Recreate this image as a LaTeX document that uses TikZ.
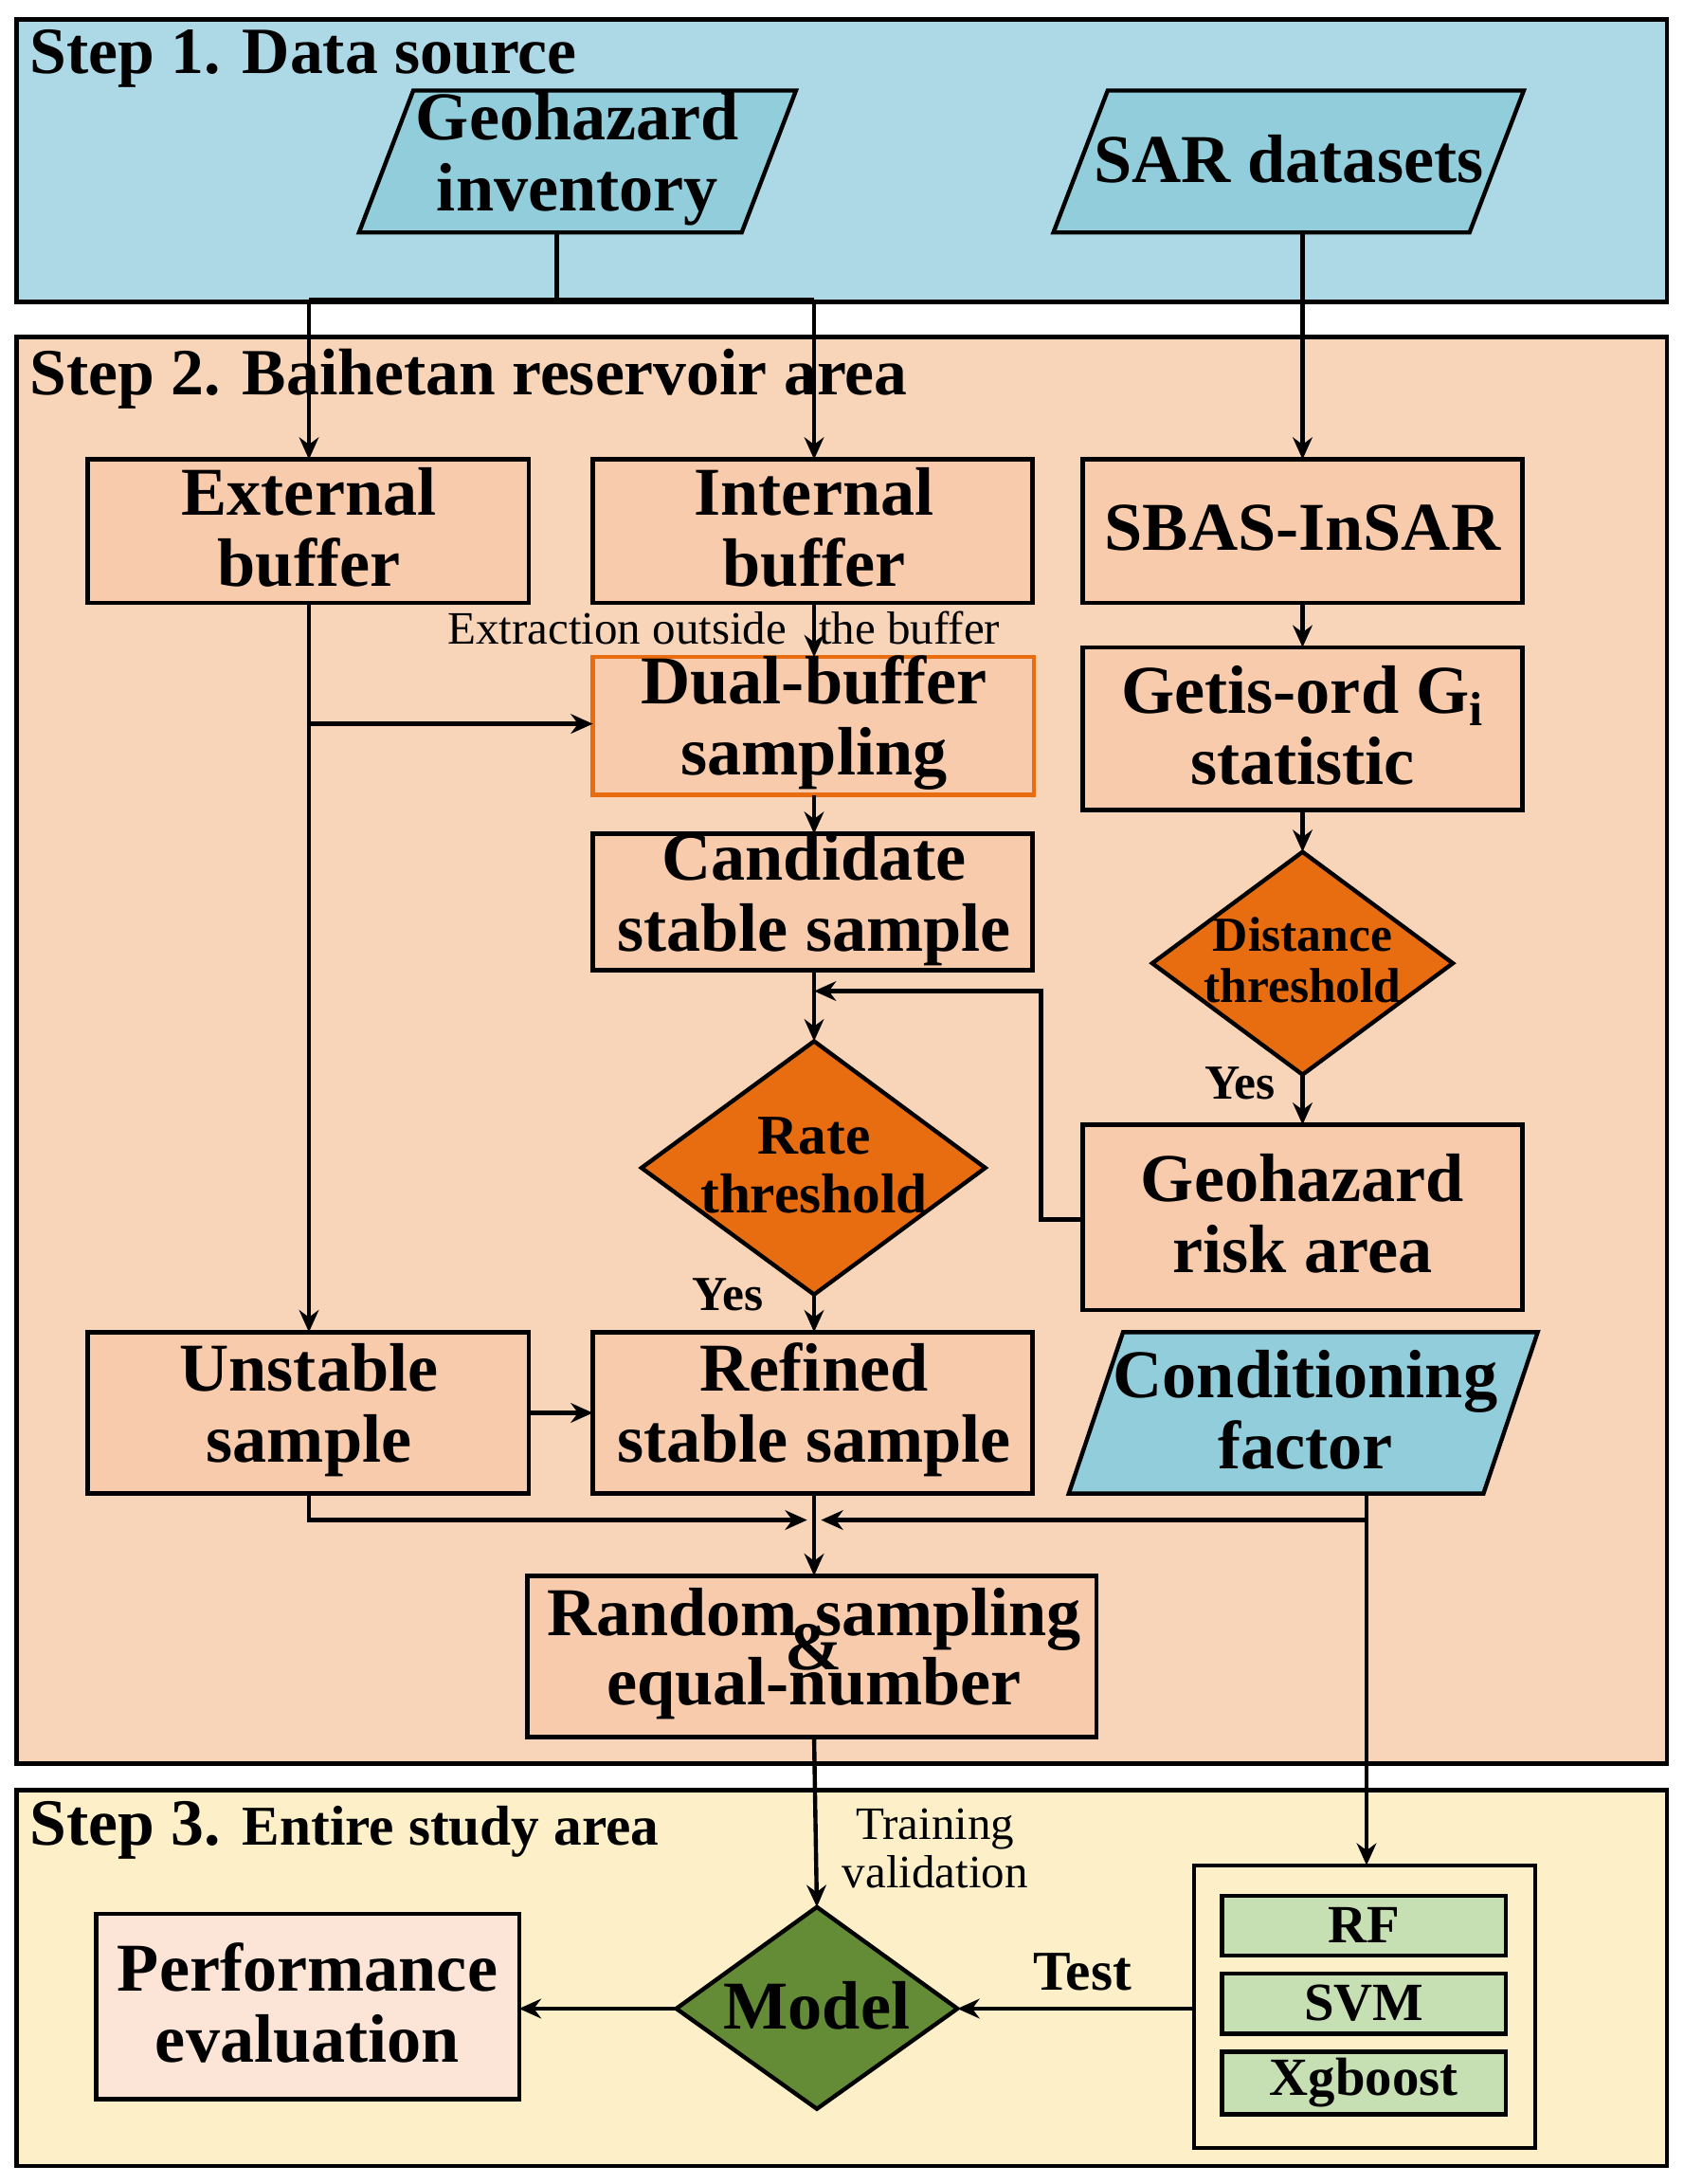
\documentclass[tikz,border=0pt]{standalone}
\usepackage{fontspec}
\setmainfont{Liberation Serif}
\usetikzlibrary{arrows.meta}
\definecolor{skyb}{RGB}{173,216,230}
\definecolor{parb}{RGB}{146,205,220}
\definecolor{peach}{RGB}{248,213,184}
\definecolor{boxo}{RGB}{248,203,173}
\definecolor{darko}{RGB}{232,109,16}
\definecolor{cream}{RGB}{253,240,200}
\definecolor{pinkb}{RGB}{252,228,214}
\definecolor{olive}{RGB}{100,140,55}
\definecolor{lgreen}{RGB}{198,224,180}
\begin{document}
\begin{tikzpicture}[x=0.02cm,y=-0.02cm,line width=1.7pt,
 big/.style={font=\fontsize{28}{29}\selectfont\bfseries,align=center},
 mid/.style={font=\fontsize{20}{21}\selectfont\bfseries,align=center},
 sm/.style={font=\fontsize{19}{20}\selectfont,align=center},
 bx/.style={draw=black,fill=boxo},
 arr/.style={-{Stealth[length=9pt,width=8pt]}}]
\useasboundingbox (0,0) rectangle (1210,1569);
% panels
\draw[fill=skyb] (12,14) rectangle (1198,217);
\draw[fill=peach] (12,242) rectangle (1198,1267);
\draw[fill=cream] (12,1286) rectangle (1198,1556);
\node[big,anchor=west,font=\fontsize{27}{29}\selectfont\bfseries] (s1) at (14,42) {Step 1. Data source};
\node[big,anchor=west,font=\fontsize{27}{29}\selectfont\bfseries] (s2) at (14,272) {Step 2. Baihetan reservoir area};
\node[anchor=west] (s3) at (14,1315) {\fontsize{27}{29}\selectfont\bfseries Step 3. \fontsize{23}{24}\selectfont Entire study area};
% step 1
\draw[fill=parb] (297,65)--(572,65)--(533,167)--(258,167)--cycle;
\node[big] (gi) at (415,114) {Geohazard\\inventory};
\draw[fill=parb] (796,65)--(1095,65)--(1056,167)--(757,167)--cycle;
\node[big] (sar) at (926,114) {SAR datasets};
% step 2 boxes
\draw[bx] (63,330) rectangle (380,433); \node[big] (eb) at (222,379) {External\\buffer};
\draw[bx] (426,330) rectangle (742,433); \node[big] (ib) at (585,379) {Internal\\buffer};
\draw[bx] (778,330) rectangle (1094,433); \node[big] (sb) at (936,379) {SBAS-InSAR};
\draw[bx,draw=darko] (426,472) rectangle (743,571); \node[big] (db) at (585,519) {Dual-buffer\\sampling};
\draw[bx] (778,465) rectangle (1094,582); \node[big] (go) at (936,521) {Getis-ord G\textsubscript{i}\\statistic};
\draw[bx] (426,599) rectangle (742,697); \node[big] (cs) at (585,646) {Candidate\\stable sample};
\draw[fill=darko] (936,612)--(1044,692)--(936,772)--(828,692)--cycle;
\node[mid] (dt) at (936,690) {Distance\\threshold};
\draw[fill=darko] (585,748)--(708,839)--(585,930)--(461,839)--cycle;
\node[big,font=\fontsize{23}{24}\selectfont\bfseries] (rt) at (585,837) {Rate\\threshold};
\draw[bx] (778,808) rectangle (1094,941); \node[big] (ra) at (936,872) {Geohazard\\risk area};
\draw[bx] (63,957) rectangle (380,1073); \node[big] (us) at (222,1013) {Unstable\\sample};
\draw[bx] (426,957) rectangle (742,1073); \node[big] (rs) at (585,1013) {Refined\\stable sample};
\draw[fill=parb] (807,957)--(1105,957)--(1066,1073)--(768,1073)--cycle;
\node[big] (cf) at (938,1013) {Conditioning\\factor};
\draw[bx] (379,1132) rectangle (788,1248);
\node[big] (rn) at (585,1188) {Random sampling\\[-15pt]\&\\[-15pt]equal-number};
% step 3
\draw[fill=pinkb] (69,1375) rectangle (373,1508); \node[big] (pe) at (221,1439) {Performance\\evaluation};
\draw[fill=olive] (587,1370)--(688,1443)--(587,1515)--(486,1443)--cycle;
\node[big] (md) at (587,1441) {Model};
\draw[fill=cream] (858,1340) rectangle (1103,1543);
\draw[fill=lgreen] (878,1362) rectangle (1082,1405); \node[mid,font=\fontsize{22}{24}\selectfont\bfseries] (rf) at (980,1383) {RF};
\draw[fill=lgreen] (878,1418) rectangle (1082,1461); \node[mid,font=\fontsize{22}{24}\selectfont\bfseries] (svm) at (980,1439) {SVM};
\draw[fill=lgreen] (878,1474) rectangle (1082,1519); \node[mid,font=\fontsize{22}{24}\selectfont\bfseries] (xg) at (980,1496) {Xgboost};
% connectors
\draw (400,167)--(400,215);
\draw (222,215)--(585,215);
\draw[arr] (222,215)--(222,330);
\draw[arr] (585,215)--(585,330);
\draw[arr] (936,167)--(936,330);
\draw[arr] (585,433)--(585,472);
\node[sm] (ex) at (520,451) {Extraction outside\phantom{i}\, the buffer};
\draw[arr] (222,433)--(222,957);
\draw[arr] (222,520)--(426,520);
\draw[arr] (585,571)--(585,599);
\draw[arr] (585,697)--(585,748);
\draw[arr] (778,876)--(748,876)--(748,712)--(585,712);
\draw[arr] (936,433)--(936,465);
\draw[arr] (936,582)--(936,612);
\draw[arr] (936,772)--(936,808);
\node[mid] (y1) at (891,778) {Yes};
\draw[arr] (585,930)--(585,957);
\node[mid] (y2) at (523,930) {Yes};
\draw[arr] (380,1015)--(426,1015);
\draw[arr] (222,1073)--(222,1092)--(580,1092);
\draw[arr] (982,1073)--(982,1092)--(590,1092);
\draw[arr] (585,1073)--(585,1132);
\draw[arr] (982,1092)--(982,1340);
\draw[arr] (585,1248)--(587,1370);
\node[sm] (tv) at (672,1328) {Training\\validation};
\draw[arr] (858,1443)--(688,1443);
\node[mid,font=\fontsize{23}{24}\selectfont\bfseries] (ts) at (778,1417) {Test};
\draw[arr] (486,1443)--(373,1443);
\end{tikzpicture}
\end{document}
